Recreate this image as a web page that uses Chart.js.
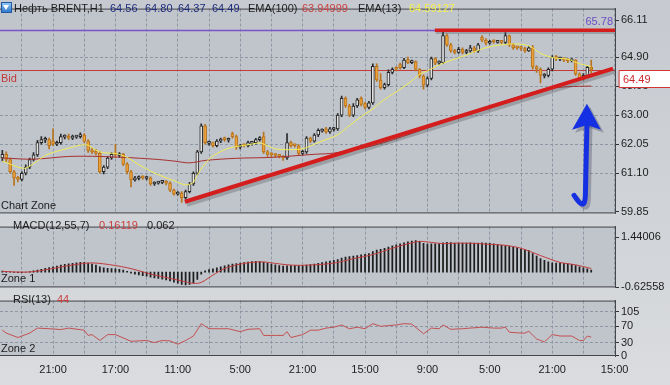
<!DOCTYPE html>
<html lang="ru">
<head>
<meta charset="utf-8">
<title>Нефть BRENT,H1</title>
<script src="https://cdn.jsdelivr.net/npm/chart.js@4/dist/chart.umd.min.js"></script>
<style>
  html, body { margin: 0; padding: 0; }
  body { width: 670px; height: 385px; overflow: hidden;
         background: linear-gradient(180deg, #c6cad0 0%, #d0d3d7 55%, #dadcdf 100%);
         font-family: "Liberation Sans", Arial, sans-serif; }
  #wrap { position: relative; width: 670px; height: 385px; }
  canvas { position: absolute; left: 0; }
  .t { position: absolute; font-size: 11px; line-height: 13px; white-space: nowrap; color: #1c1c1c; }
  .blue { color: #1d2b7c; }
  .red { color: #c8403f; }
  .yel { color: #f4ef4c; }
  .icon { position: absolute; left: 1px; top: 2px; width: 9px; height: 9px; border: 1px solid #235a9c;
          background: linear-gradient(180deg, #8cc6f5, #2f79cf); }
  .icon::after { content: ""; position: absolute; left: 1px; top: 2px;
          border-left: 3.5px solid transparent; border-right: 3.5px solid transparent; border-top: 5px solid #fff; }
</style>
</head>
<body>
<div id="wrap">
  <canvas id="main" width="670" height="222" style="top:0"></canvas>
  <canvas id="macd" width="670" height="78" style="top:218px"></canvas>
  <canvas id="rsi" width="670" height="93" style="top:292px"></canvas>

  <div class="icon"></div>
  <span class="t" style="left:14px;top:2px">Нефть BRENT,H1</span>
  <span class="t blue" style="left:110px;top:2px">64.56</span>
  <span class="t blue" style="left:145px;top:2px">64.80</span>
  <span class="t blue" style="left:178px;top:2px">64.37</span>
  <span class="t blue" style="left:212px;top:2px">64.49</span>
  <span class="t" style="left:248px;top:2px">EMA(100)</span>
  <span class="t red" style="left:302px;top:2px">63.94999</span>
  <span class="t" style="left:358px;top:2px">EMA(13)</span>
  <span class="t yel" style="left:409px;top:2px">64.59127</span>
  <span class="t" style="left:1px;top:199px">Chart Zone</span>

  <span class="t" style="left:13px;top:219px">MACD(12,55,7)</span>
  <span class="t red" style="left:99px;top:219px">0.16119</span>
  <span class="t" style="left:147px;top:219px">0.062</span>
  <span class="t" style="left:1px;top:272px">Zone 1</span>

  <span class="t" style="left:13px;top:293px">RSI(13)</span>
  <span class="t red" style="left:57px;top:293px">44</span>
  <span class="t" style="left:1px;top:342px">Zone 2</span>
</div>

<script>
// --- candles (H1), bar 0 = first visible bar ---
const open = [61.60, 61.72, 61.55, 61.15, 60.95, 60.90, 61.10, 61.30, 61.55, 61.70,
  62.10, 62.18, 62.20, 62.15, 62.05, 62.10, 62.28, 62.32, 62.25, 62.28,
  62.30, 62.35, 62.15, 61.85, 61.80, 61.75, 61.15, 61.30, 61.60, 61.72,
  61.68, 61.72, 61.40, 61.15, 60.88, 60.93, 60.97, 60.93, 60.95, 60.75,
  60.78, 60.80, 60.82, 60.78, 60.55, 60.42, 60.45, 60.30, 60.50, 60.75,
  61.10, 61.80, 62.65, 62.08, 62.10, 62.00, 62.15, 62.22, 62.18, 62.40,
  62.30, 61.95, 62.02, 62.00, 62.08, 62.10, 62.20, 62.30, 61.80, 61.72,
  61.70, 61.68, 61.65, 61.60, 62.10, 62.02, 62.00, 61.75, 61.80, 62.25,
  62.15, 62.35, 62.48, 62.55, 62.45, 62.53, 62.55, 63.00, 63.55, 63.30,
  63.00, 63.30, 63.55, 63.38, 63.25, 63.40, 64.60, 64.15, 63.90, 64.00,
  64.40, 64.52, 64.65, 64.55, 64.82, 64.72, 64.75, 64.50, 64.28, 63.98,
  64.20, 64.85, 64.70, 64.72, 65.60, 65.30, 65.10, 65.05, 65.15, 65.05,
  65.10, 65.20, 65.10, 65.55, 65.45, 65.35, 65.42, 65.38, 65.40, 65.38,
  65.60, 65.30, 65.22, 65.20, 65.18, 65.10, 65.20, 64.58, 64.50, 64.28,
  64.30, 64.50, 64.90, 64.83, 64.85, 64.82, 64.78, 64.80, 64.35, 64.20,
  64.30, 64.56];
const high = [61.85, 61.80, 61.60, 61.20, 61.00, 61.15, 61.38, 61.60, 61.78, 62.18,
  62.30, 62.28, 62.25, 62.55, 62.15, 62.38, 62.36, 62.38, 62.35, 62.34,
  62.42, 62.40, 62.20, 61.92, 61.88, 61.82, 61.35, 61.65, 61.78, 62.05,
  61.78, 61.75, 61.45, 61.20, 61.00, 61.02, 61.02, 61.00, 60.98, 60.82,
  60.84, 60.86, 60.86, 60.82, 60.58, 60.50, 60.50, 60.55, 60.80, 61.15,
  61.85, 62.72, 62.70, 62.15, 62.12, 62.20, 62.25, 62.28, 62.25, 62.45,
  62.35, 62.05, 62.06, 62.15, 62.14, 62.24, 62.30, 62.45, 61.85, 61.78,
  61.74, 61.72, 61.68, 62.40, 62.15, 62.06, 62.04, 61.85, 62.30, 62.28,
  62.40, 62.55, 62.55, 62.60, 62.60, 62.60, 63.05, 63.62, 63.60, 63.35,
  63.38, 63.55, 63.60, 63.42, 63.45, 64.68, 64.68, 64.36, 64.05, 64.48,
  64.55, 64.58, 64.70, 64.86, 64.90, 64.80, 64.78, 64.52, 64.32, 64.25,
  64.90, 64.88, 64.78, 65.72, 65.65, 65.35, 65.15, 65.22, 65.20, 65.15,
  65.28, 65.25, 65.35, 65.60, 65.50, 65.45, 65.46, 65.44, 65.45, 65.70,
  65.62, 65.35, 65.25, 65.25, 65.22, 65.25, 65.28, 64.62, 64.55, 64.36,
  64.55, 64.95, 64.96, 64.90, 64.88, 64.85, 64.85, 64.82, 64.38, 64.36,
  64.60, 64.80];
const low = [61.50, 61.48, 61.10, 60.70, 60.82, 60.85, 61.05, 61.25, 61.50, 61.65,
  62.05, 62.10, 61.90, 62.00, 62.00, 62.05, 62.22, 62.20, 62.20, 62.24,
  62.25, 62.10, 61.78, 61.74, 61.70, 61.10, 61.08, 61.25, 61.55, 61.62,
  61.62, 61.35, 61.08, 60.65, 60.84, 60.88, 60.90, 60.88, 60.70, 60.70,
  60.74, 60.76, 60.72, 60.50, 60.38, 60.38, 60.15, 60.25, 60.46, 60.70,
  61.05, 61.75, 62.05, 62.02, 61.95, 61.96, 62.10, 62.14, 62.12, 62.25,
  61.88, 61.90, 61.96, 61.96, 62.02, 62.05, 62.15, 61.75, 61.65, 61.62,
  61.62, 61.60, 61.52, 61.55, 61.95, 61.95, 61.70, 61.70, 61.75, 62.10,
  62.12, 62.30, 62.44, 62.40, 62.40, 62.48, 62.50, 62.95, 63.25, 62.95,
  62.95, 63.25, 63.30, 63.20, 63.20, 63.35, 64.10, 63.85, 63.85, 63.95,
  64.35, 64.45, 64.50, 64.52, 64.68, 64.68, 64.45, 64.22, 63.85, 63.92,
  64.15, 64.65, 64.65, 64.68, 65.25, 65.05, 65.00, 65.02, 65.00, 65.00,
  65.05, 65.05, 65.05, 65.40, 65.30, 65.32, 65.35, 65.35, 65.33, 65.32,
  65.25, 65.15, 65.15, 65.12, 65.05, 65.08, 64.50, 64.40, 64.05, 64.22,
  64.25, 64.45, 64.78, 64.78, 64.75, 64.72, 64.74, 64.30, 64.15, 64.15,
  64.25, 64.37];
const close = [61.72, 61.55, 61.15, 60.95, 60.90, 61.10, 61.30, 61.55, 61.70, 62.10,
  62.20, 62.20, 62.00, 62.05, 62.10, 62.30, 62.30, 62.25, 62.30, 62.30,
  62.35, 62.15, 61.85, 61.80, 61.75, 61.15, 61.30, 61.60, 61.72, 61.70,
  61.72, 61.40, 61.15, 60.88, 60.95, 60.97, 60.95, 60.95, 60.75, 60.78,
  60.80, 60.82, 60.78, 60.55, 60.42, 60.45, 60.30, 60.50, 60.75, 61.10,
  61.80, 62.65, 62.10, 62.10, 62.00, 62.15, 62.20, 62.20, 62.20, 62.30,
  61.95, 62.00, 62.00, 62.10, 62.10, 62.20, 62.25, 61.80, 61.72, 61.70,
  61.68, 61.65, 61.60, 62.10, 62.00, 62.00, 61.75, 61.80, 62.25, 62.15,
  62.35, 62.50, 62.50, 62.45, 62.55, 62.55, 63.00, 63.55, 63.30, 63.00,
  63.30, 63.50, 63.35, 63.25, 63.40, 64.60, 64.15, 63.90, 64.00, 64.40,
  64.50, 64.50, 64.55, 64.80, 64.72, 64.75, 64.50, 64.28, 63.98, 64.20,
  64.85, 64.70, 64.72, 65.60, 65.30, 65.10, 65.05, 65.15, 65.05, 65.10,
  65.20, 65.10, 65.30, 65.45, 65.35, 65.40, 65.40, 65.40, 65.38, 65.60,
  65.30, 65.20, 65.20, 65.18, 65.10, 65.20, 64.58, 64.50, 64.30, 64.30,
  64.50, 64.90, 64.85, 64.85, 64.80, 64.78, 64.80, 64.35, 64.20, 64.30,
  64.56, 64.49];

// --- moving averages, [bar, value] ---
const ema13 = [[0, 61.5], [2, 61.4], [4, 61.3], [6, 61.27], [9, 61.5], [11, 61.68], [14, 61.82],
  [17, 61.92], [20, 62.02], [22, 62.02], [24, 61.85], [26, 61.77], [29, 61.75], [32, 61.62],
  [35, 61.38], [38, 61.17], [41, 61.0], [44, 60.86], [47, 60.72], [49, 60.8], [50, 61.05],
  [53, 61.56], [56, 61.81], [59, 61.95], [63, 62.03], [66, 62.09], [68, 62.0], [70, 61.9],
  [73, 61.87], [77, 61.9], [80, 62.05], [83, 62.2], [86, 62.36], [89, 62.66], [92, 62.95],
  [95, 63.2], [97, 63.42], [99, 63.6], [102, 63.85], [105, 64.12], [107, 64.34], [109, 64.45],
  [111, 64.58], [113, 64.7], [116, 64.83], [119, 64.97], [122, 65.12], [125, 65.24], [128, 65.3],
  [131, 65.33], [134, 65.3], [136, 65.2], [138, 65.02], [140, 64.92], [142, 64.86], [145, 64.83],
  [148, 64.68], [151, 64.59]];
const ema100 = [[0, 61.6], [8, 61.56], [17, 61.65], [25, 61.65], [34, 61.6], [40, 61.55], [44, 61.5],
  [48, 61.44], [52, 61.52], [60, 61.59], [69, 61.62], [80, 61.72], [85, 61.76], [95, 62.0],
  [105, 62.4], [115, 62.85], [125, 63.3], [133, 63.62], [139, 63.85], [145, 63.93], [151, 63.95]];

// --- MACD(12,55,7) ---
const macdHist = [0.04, 0.03, 0.01, -0.01, -0.02, -0.02, 0.00, 0.02, 0.05, 0.08,
  0.12, 0.16, 0.19, 0.22, 0.25, 0.29, 0.32, 0.34, 0.36, 0.38,
  0.40, 0.40, 0.37, 0.33, 0.29, 0.22, 0.18, 0.16, 0.15, 0.14,
  0.12, 0.08, 0.03, -0.04, -0.08, -0.11, -0.14, -0.17, -0.21, -0.24,
  -0.26, -0.29, -0.32, -0.36, -0.41, -0.45, -0.50, -0.52, -0.50, -0.44,
  -0.30, -0.08, 0.05, 0.10, 0.14, 0.18, 0.22, 0.26, 0.30, 0.33,
  0.35, 0.37, 0.39, 0.41, 0.43, 0.44, 0.43, 0.40, 0.36, 0.33,
  0.30, 0.27, 0.25, 0.26, 0.27, 0.27, 0.26, 0.27, 0.29, 0.31,
  0.33, 0.36, 0.39, 0.42, 0.45, 0.48, 0.52, 0.58, 0.62, 0.64,
  0.66, 0.68, 0.71, 0.73, 0.76, 0.84, 0.90, 0.94, 0.98, 1.03,
  1.08, 1.12, 1.16, 1.20, 1.24, 1.27, 1.29, 1.26, 1.18, 1.15,
  1.16, 1.16, 1.16, 1.20, 1.22, 1.21, 1.19, 1.19, 1.19, 1.19,
  1.20, 1.19, 1.19, 1.20, 1.19, 1.18, 1.16, 1.13, 1.10, 1.08,
  1.06, 1.03, 1.00, 0.96, 0.92, 0.88, 0.76, 0.66, 0.56, 0.48,
  0.42, 0.38, 0.37, 0.37, 0.36, 0.34, 0.32, 0.27, 0.22, 0.18,
  0.14, 0.08];
const macdSignal = [[0, 0.03], [5, 0.0], [8, 0.02], [12, 0.12], [16, 0.24], [20, 0.34], [23, 0.38],
  [26, 0.34], [29, 0.27], [32, 0.18], [35, 0.06], [38, -0.08], [42, -0.22], [46, -0.36],
  [49, -0.46], [51, -0.42], [54, -0.12], [57, 0.15], [61, 0.33], [64, 0.40], [67, 0.42],
  [70, 0.36], [73, 0.30], [76, 0.28], [80, 0.30], [85, 0.37], [90, 0.55], [95, 0.72],
  [100, 0.98], [104, 1.16], [107, 1.26], [110, 1.22], [113, 1.17], [117, 1.19], [121, 1.18],
  [125, 1.14], [129, 1.10], [133, 0.98], [138, 0.68], [143, 0.40], [147, 0.30], [151, 0.15]];

// --- RSI(13) ---
const rsi = [[0, 60.5], [1, 53.6], [4, 43], [7, 53.6], [9, 65.5], [12, 64], [15, 62], [17, 65.5],
  [21, 60.5], [22, 48], [23, 50], [25, 36], [27, 50], [29, 50], [33, 34], [37, 36], [39, 31],
  [41, 36], [43, 35], [45, 27], [47, 36], [49, 46.6], [51, 76], [53, 64], [56, 64], [58, 64],
  [61, 57], [63, 62.6], [66, 64], [67, 48], [70, 48], [72, 48], [73, 57], [74, 43], [77, 50],
  [79, 60.5], [81, 60.5], [83, 65.5], [85, 67.6], [87, 73], [89, 64], [91, 67.6], [93, 64],
  [95, 76], [97, 69.7], [101, 73], [103, 76], [105, 75], [108, 52], [110, 65.5], [112, 64],
  [113, 73], [115, 62.6], [118, 64], [120, 65.5], [123, 67.6], [126, 65.5], [128, 65.5],
  [129, 67.6], [130, 55.7], [133, 53.6], [134, 53.6], [135, 58], [137, 39.5], [138, 36],
  [139, 32.6], [141, 50], [143, 46.6], [146, 46.6], [148, 36], [149, 36], [150, 46.6], [151, 44]];

// --- axes ---
const priceTicks = [66.11, 64.90, 63.95, 63.00, 62.05, 61.10, 59.85];
const macdTicks = [1.44006, -0.62558];
const rsiTicks = [105, 70, 30, 0];
const gridBars = [5, 13, 21, 29, 37, 45, 53, 61, 69, 77, 85, 93, 101, 109, 117, 125, 133, 141, 149, 157];
const timeTickBars = [13, 29, 45, 61, 77, 93, 109, 125, 141, 157];
const timeLabels = ['21:00', '17:00', '11:00', '5:00', '21:00', '15:00', '9:00', '5:00', '21:00', '15:00'];

// --- drawn objects, in [bar, price] ---
const bidPrice = 64.49;
const levelPrice = 65.78;
const trendUp = [[46.8, 60.17], [156.6, 64.52]];
const trendTop = [[110.9, 65.78], [157.1, 65.78]];
const arrowHead = [[149.9, 63.37], [146.1, 62.52], [149.9, 62.68], [153.5, 62.52]];
const arrowShaft = [[149.9, 62.7], [149.5, 60.35], [149.3, 59.82], [146.6, 60.38]];

Chart.defaults.font.family = '"Liberation Sans", Arial, sans-serif';
Chart.defaults.font.size = 11;
Chart.defaults.color = '#1c1c1c';

const X_MIN = -0.6, X_MAX = 157.1;
const PLOT_BG = '#c0c4cb';
const GRID = '#8e97a4';
const FRAME = '#44474c';
const isUp = i => close[i] >= open[i];

const panel = {
    id: 'panel',
    beforeDraw(chart) {
        const {ctx, chartArea: a} = chart;
        ctx.save();
        ctx.fillStyle = PLOT_BG;
        ctx.fillRect(a.left, a.top, a.right - a.left, a.bottom - a.top);
        ctx.restore();
    },
    afterDraw(chart) {
        const {ctx, chartArea: a} = chart;
        ctx.save();
        ctx.strokeStyle = FRAME;
        ctx.lineWidth = 1;
        ctx.beginPath();
        ctx.moveTo(a.left, a.top + 0.5); ctx.lineTo(a.right, a.top + 0.5);
        ctx.moveTo(a.left, a.bottom - 0.5); ctx.lineTo(a.right, a.bottom - 0.5);
        ctx.stroke();
        ctx.restore();
    }
};

function xAxis(showLabels, height) {
    return {
        type: 'linear', min: X_MIN, max: X_MAX, offset: false,
        afterBuildTicks: s => { s.ticks = gridBars.map(v => ({value: v})); },
        afterFit: s => { s.height = height; },
        ticks: {
            display: showLabels, autoSkip: false, maxRotation: 0, padding: 7, color: '#222',
            callback: v => { const k = timeTickBars.indexOf(v); return k < 0 ? '' : timeLabels[k]; }
        },
        grid: {color: GRID, drawTicks: false, offset: false},
        border: {display: false, dash: [3, 2]}
    };
}

function yAxis(min, max, ticks, fmt, gridOn) {
    return {
        position: 'right', min, max, beginAtZero: false,
        afterBuildTicks: s => { s.ticks = ticks.map(v => ({value: v})); },
        afterFit: s => { s.width = 55; },
        ticks: {padding: 2, color: '#1c1c1c', callback: fmt},
        grid: {
            color: c => (c.tick && gridOn(c.tick.value)) ? GRID : 'rgba(0,0,0,0)',
            drawTicks: true, tickLength: 4, tickColor: '#333'
        },
        border: {display: true, color: FRAME, dash: [3, 2]}
    };
}

const base = {
    responsive: false, animation: false, devicePixelRatio: 1, events: [],
    layout: {padding: 0},
    plugins: {legend: {display: false}, tooltip: {enabled: false}}
};

// --- main chart overlays: levels, trend lines, arrow ---
const overlays = {
    id: 'overlays',
    beforeDatasetsDraw(chart) {
        const {ctx, chartArea: a, scales: {y}} = chart;
        ctx.save();
        const ly = Math.round(y.getPixelForValue(levelPrice)) + 0.5;
        ctx.strokeStyle = '#7b55c8'; ctx.lineWidth = 1.5;
        ctx.beginPath(); ctx.moveTo(a.left, ly); ctx.lineTo(a.right, ly); ctx.stroke();
        const by = Math.round(y.getPixelForValue(bidPrice)) + 0.5;
        ctx.strokeStyle = '#c63a3a'; ctx.lineWidth = 1;
        ctx.beginPath(); ctx.moveTo(a.left, by); ctx.lineTo(a.right, by); ctx.stroke();
        ctx.font = '11px "Liberation Sans", Arial, sans-serif';
        ctx.textBaseline = 'middle';
        ctx.fillStyle = '#c23a3a';
        ctx.fillText('Bid', a.left + 1, by + 8);
        ctx.fillStyle = '#6c4fc4';
        ctx.textAlign = 'right';
        ctx.fillText(levelPrice.toFixed(2), a.right - 2, ly - 9);
        ctx.restore();
    },
    afterDraw(chart) {
        const {ctx, chartArea: a, scales: {x, y}} = chart;
        const P = ([i, p]) => [x.getPixelForValue(i), y.getPixelForValue(p)];
        ctx.save();

        const seg = (pts, dx, dy, color, w) => {
            const [p0, p1] = pts.map(P);
            ctx.strokeStyle = color; ctx.lineWidth = w;
            ctx.beginPath(); ctx.moveTo(p0[0] + dx, p0[1] + dy); ctx.lineTo(p1[0] + dx, p1[1] + dy); ctx.stroke();
        };
        seg(trendUp, 2, 3, 'rgba(70,75,80,0.3)', 4);
        seg(trendUp, 0, 0, '#d41d1d', 4);
        seg(trendTop, 1, 2, 'rgba(70,75,80,0.3)', 3.5);
        seg(trendTop, 0, 0, '#d41d1d', 3.5);

        // blue arrow
        const drawArrow = (dx, dy, color) => {
            const s = arrowShaft.map(P);
            ctx.strokeStyle = color; ctx.fillStyle = color;
            ctx.lineWidth = 5; ctx.lineCap = 'round'; ctx.lineJoin = 'round';
            ctx.beginPath();
            ctx.moveTo(s[0][0] + dx, s[0][1] + dy);
            ctx.lineTo(s[1][0] + dx, s[1][1] + dy);
            ctx.quadraticCurveTo(s[2][0] + dx, s[2][1] + dy, s[3][0] + dx, s[3][1] + dy);
            ctx.stroke();
            const h = arrowHead.map(P);
            ctx.beginPath();
            ctx.moveTo(h[0][0] + dx, h[0][1] + dy);
            for (let k = 1; k < h.length; k++) ctx.lineTo(h[k][0] + dx, h[k][1] + dy);
            ctx.closePath(); ctx.fill();
        };
        drawArrow(3, 3, 'rgba(40,40,70,0.28)');
        drawArrow(0, 0, '#1430e2');

        // bid price box on the axis
        const by = Math.round(y.getPixelForValue(bidPrice));
        ctx.fillStyle = '#ffffff';
        ctx.fillRect(a.right + 4, by, 66, 18);
        ctx.strokeStyle = '#d03535'; ctx.lineWidth = 1;
        ctx.strokeRect(a.right + 4.5, by + 0.5, 66, 17);
        ctx.fillStyle = '#cc2a2a';
        ctx.font = '11px "Liberation Sans", Arial, sans-serif';
        ctx.textBaseline = 'middle';
        ctx.fillText(bidPrice.toFixed(2), a.right + 8, by + 9.5);
        ctx.restore();
    }
};

// --- main chart ---
new Chart(document.getElementById('main'), {
    type: 'bar',
    data: {
        datasets: [{
            type: 'line',
            data: ema13.map(([i, v]) => ({x: i, y: v})),
            borderColor: '#f2ee55', borderWidth: 1, pointRadius: 0, tension: 0.3, order: 0
        }, {
            type: 'line',
            data: ema100.map(([i, v]) => ({x: i, y: v})),
            borderColor: '#a8302f', borderWidth: 1, pointRadius: 0, tension: 0.3, order: 1
        }, {
            data: close.map((c, i) => ({x: i, y: [open[i], c]})),
            backgroundColor: c => isUp(c.dataIndex) ? '#e3e3e3' : '#eba23a',
            borderColor: c => isUp(c.dataIndex) ? '#262626' : '#b8731c',
            borderWidth: 1, borderSkipped: false, barThickness: 3, minBarLength: 2,
            grouped: false, order: 2
        }, {
            data: close.map((c, i) => ({x: i, y: [low[i], high[i]]})),
            backgroundColor: c => isUp(c.dataIndex) ? '#2a2a2a' : '#b8731c',
            borderWidth: 0, barThickness: 1, grouped: false, order: 3
        }]
    },
    options: {
        ...base,
        scales: {
            x: xAxis(false, 7),
            y: yAxis(59.788, 66.484, priceTicks, v => v.toFixed(2), v => v > 60 && v < 66)
        }
    },
    plugins: [panel, overlays]
});

// --- MACD ---
new Chart(document.getElementById('macd'), {
    type: 'bar',
    data: {
        datasets: [{
            type: 'line',
            data: macdSignal.map(([i, v]) => ({x: i, y: v})),
            borderColor: '#c43c3c', borderWidth: 1, pointRadius: 0, tension: 0.3, order: 0
        }, {
            data: macdHist.map((v, i) => ({x: i, y: v})),
            backgroundColor: '#1e1e1e', barThickness: 1.1, grouped: false, order: 1
        }]
    },
    options: {
        ...base,
        scales: {
            x: xAxis(false, 8),
            y: yAxis(-0.62558, 1.8674, macdTicks, v => v.toFixed(5), () => false)
        }
    },
    plugins: [panel]
});

// --- RSI ---
new Chart(document.getElementById('rsi'), {
    type: 'line',
    data: {
        datasets: [{
            data: rsi.map(([i, v]) => ({x: i, y: v})),
            borderColor: '#c45252', borderWidth: 1, pointRadius: 0
        }]
    },
    options: {
        ...base,
        scales: {
            x: xAxis(true, 29),
            y: yAxis(-1, 131, rsiTicks, v => String(v), v => v > 0)
        }
    },
    plugins: [panel]
});
</script>
</body>
</html>
